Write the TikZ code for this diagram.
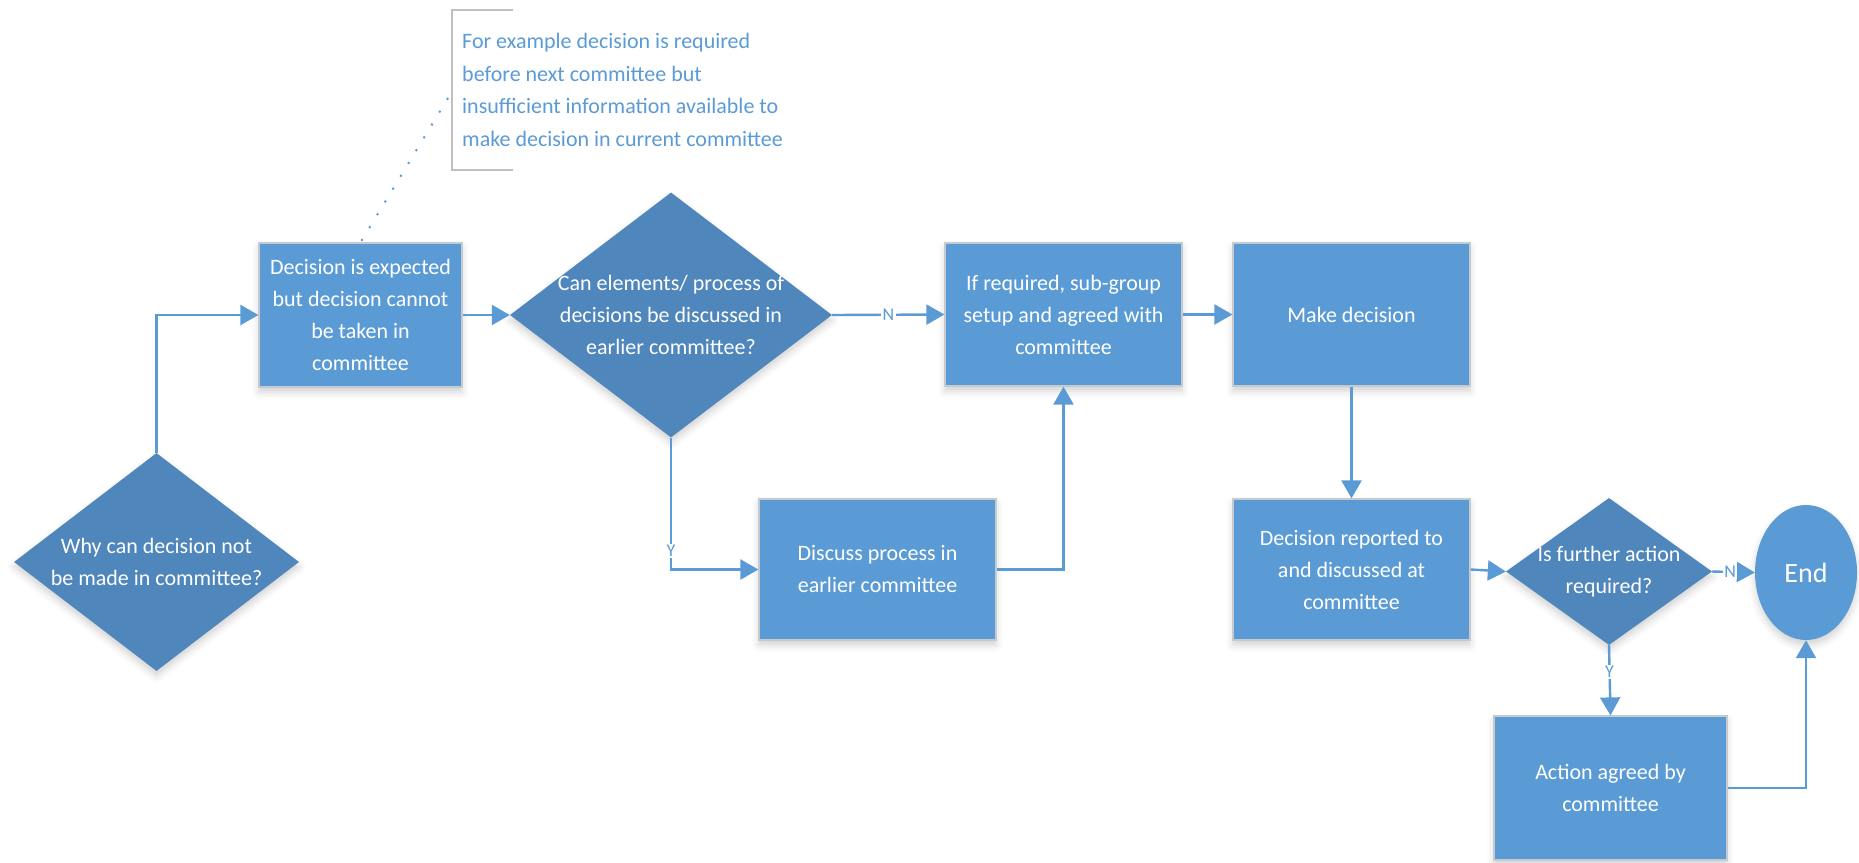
\documentclass[tikz,border=0pt]{standalone}
\usepackage{fontspec}
\setmainfont{Carlito}
\usetikzlibrary{shapes.geometric,arrows.meta,shadows.blur}

\definecolor{boxblue}{HTML}{5B9BD5}
\definecolor{diablue}{HTML}{4F86BB}
\definecolor{edgegray}{HTML}{C5CAD0}
\definecolor{bracketgray}{HTML}{BFBFBF}

\tikzset{
  softshadow/.style={blur shadow={shadow xshift=0pt, shadow yshift=-5pt,
      shadow blur radius=7pt, shadow opacity=18}},
  stepbox/.style={rectangle, fill=boxblue, draw=edgegray, line width=1.2pt,
      text=white, align=center, font=\fontsize{22}{32}\selectfont,
      inner sep=0pt, softshadow},
  question/.style={diamond, fill=diablue, inner sep=0pt, softshadow},
  qtext/.style={text=white, align=center, font=\fontsize{22}{32}\selectfont},
  terminal/.style={ellipse, fill=boxblue, text=white, inner sep=0pt,
      font=\fontsize{28}{32}\selectfont, softshadow},
  flow/.style={draw=boxblue, line width=2.4pt,
      -{Triangle[length=18pt, width=20pt]}},
  answer/.style={fill=white, text=boxblue, inner sep=1.5pt,
      font=\fontsize{18}{20}\selectfont},
  notetext/.style={text=boxblue, align=left, anchor=west, inner sep=0pt,
      font=\fontsize{22}{32.7}\selectfont},
}

\begin{document}
\begin{tikzpicture}[x=1pt, y=-1pt]
  \useasboundingbox (0,0) rectangle (1859,862);

  % annotation bracket and its note
  \draw[bracketgray, line width=2pt] (513,10) -- (452,10) -- (452,170) -- (513,170);
  \node[notetext] (note) at (462,90)
    {For example decision is required\\before next committee but\\insufficient information available to\\make decision in current committee};
  \coordinate (notepin) at (448,98);

  % process steps
  \node[question, minimum width=285pt, minimum height=218pt,
        label={[qtext]center:{Why can decision not\\be made in committee?}}] (why) at (156.5,562) {};
  \node[stepbox, minimum width=203pt, minimum height=144pt] (expect) at (360.5,315)
    {Decision is expected\\but decision cannot\\be taken in\\committee};
  \node[question, minimum width=322pt, minimum height=245pt,
        label={[qtext]center:{Can elements/ process of\\decisions be discussed in\\earlier committee?}}] (earlier) at (671,315) {};
  \node[stepbox, minimum width=237pt, minimum height=141pt] (discuss) at (877.5,569.5)
    {Discuss process in\\earlier committee};
  \node[stepbox, minimum width=237pt, minimum height=143pt] (subgroup) at (1063.5,314.5)
    {If required, sub-group\\setup and agreed with\\committee};
  \node[stepbox, minimum width=237pt, minimum height=143pt] (make) at (1351.5,314.5)
    {Make decision};
  \node[stepbox, minimum width=237pt, minimum height=141pt] (reported) at (1351.5,569.5)
    {Decision reported to\\and discussed at\\committee};
  \node[question, minimum width=206pt, minimum height=147pt,
        label={[qtext]center:{Is further action\\required?}}] (further) at (1609,571.5) {};
  \node[terminal, minimum width=102pt, minimum height=135pt] (finish) at (1806,572.5) {End};
  \node[stepbox, minimum width=233pt, minimum height=144pt] (action) at (1610.5,788)
    {Action agreed by\\committee};

  % dotted leader from the note to its step
  \draw[boxblue, line width=2pt, dash pattern=on 2pt off 13pt] (notepin) -- (expect.north);

  % connectors
  \draw[flow] (why.north) |- (expect.west);
  \draw[flow] (expect.east) -- (earlier.west);
  \draw[flow] (earlier.east) -- node[answer] (n1) {N} (subgroup.west);
  \draw[flow] (earlier.south) |- node[answer, pos=0.43] (y1) {Y} (discuss.west);
  \draw[flow] (discuss.east) -| (subgroup.south);
  \draw[flow] (subgroup.east) -- (make.west);
  \draw[flow] (make.south) -- (reported.north);
  \draw[flow] (reported.east) -- (further.west);
  \draw[flow] (further.east) -- node[answer, pos=0.42] (n2) {N} (finish.west);
  \draw[flow] (further.south) -- node[answer, pos=0.38] (y2) {Y} (action.north);
  \draw[flow] (action.east) -| (finish.south);
\end{tikzpicture}
\end{document}
